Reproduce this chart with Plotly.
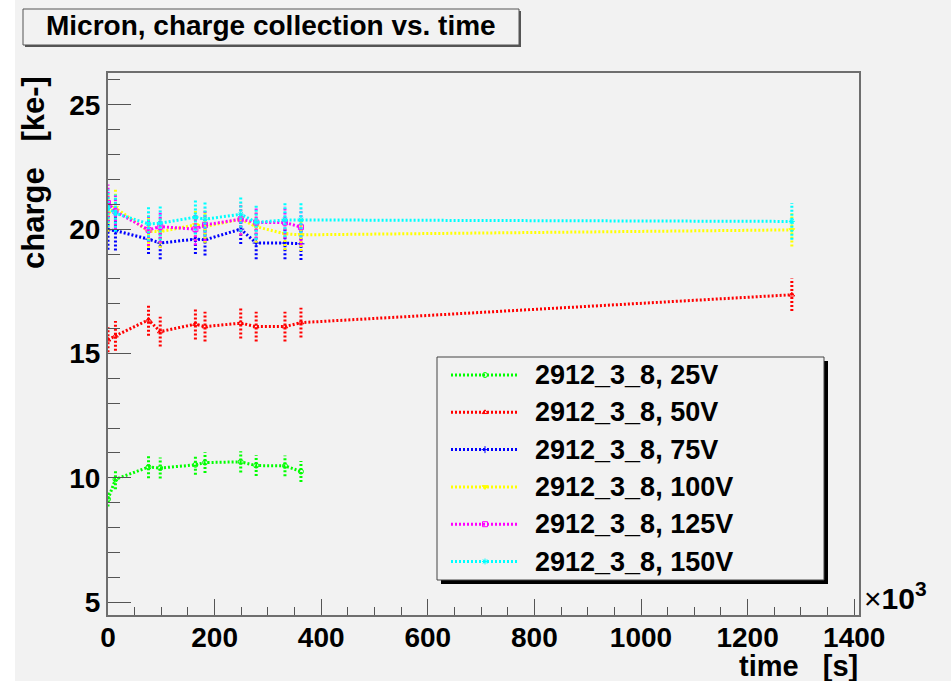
import plotly.graph_objects as go

# ---------------- data ----------------
times = [0, 14, 76, 98, 164, 182, 249, 278, 332, 362, 1283]   # x10^3 s

labels = ["2912_3_8, 25V", "2912_3_8, 50V", "2912_3_8, 75V",
          "2912_3_8, 100V", "2912_3_8, 125V", "2912_3_8, 150V"]
colors = ["#00ff00", "#ff0000", "#0000ff", "#ffff00", "#ff00ff", "#00ffff"]
symbols = ["circle-open", "triangle-up-open", "cross-thin-open",
           "triangle-down", "square-open", "asterisk-open"]

charge_25 = [9.14, 9.94, 10.43, 10.39, 10.52, 10.61, 10.64, 10.49, 10.48, 10.25]
err_25 = [0.30, 0.40, 0.45, 0.42, 0.40, 0.42, 0.43, 0.42, 0.42, 0.42]
charge_50 = [15.55, 15.71, 16.35, 15.88, 16.18, 16.08, 16.22, 16.08, 16.08, 16.24, 17.36]
err_50 = [0.50, 0.60, 0.64, 0.60, 0.62, 0.60, 0.62, 0.60, 0.60, 0.60, 0.65]
charge_75 = [19.97, 19.94, 19.60, 19.44, 19.60, 19.57, 20.00, 19.44, 19.44, 19.41]
err_75 = [0.80, 0.80, 0.60, 0.65, 0.60, 0.63, 0.60, 0.65, 0.65, 0.65]
charge_100 = [20.64, 20.86, 19.90, 19.90, 20.17, 20.10, 20.40, 20.10, 19.81, 19.77, 19.97]
err_100 = [0.75, 0.80, 0.65, 0.65, 0.65, 0.65, 0.65, 0.65, 0.65, 0.65, 0.67]
charge_125 = [21.05, 20.71, 19.97, 20.10, 20.00, 20.17, 20.40, 20.27, 20.27, 20.08]
err_125 = [0.75, 0.70, 0.65, 0.65, 0.65, 0.65, 0.65, 0.65, 0.65, 0.73]
charge_150 = [20.84, 20.64, 20.21, 20.24, 20.48, 20.40, 20.60, 20.27, 20.37, 20.37, 20.31]
err_150 = [0.75, 0.75, 0.70, 0.70, 0.70, 0.70, 0.70, 0.70, 0.70, 0.70, 0.74]

series = [charge_25, charge_50, charge_75, charge_100, charge_125, charge_150]
errors = [err_25, err_50, err_75, err_100, err_125, err_150]

x_ticks = [0, 200, 400, 600, 800, 1000, 1200, 1400]
y_ticks = [5, 10, 15, 20, 25]

# ---------------- layout geometry (pixels) ----------------
W, H = 951, 681
L, R, T, B = 108, 859, 73, 615
FONT = "Liberation Sans, Arial, sans-serif"
DASH = "2px,2px"
BG = "#f2f2f2"


def px(x):
    return (x - L) / (R - L)


def py(y):
    return (B - y) / (B - T)


fig = go.Figure()

for name, col, sym, ys, es in zip(labels, colors, symbols, series, errors):
    xs = times[:len(ys)]
    ex, ey = [], []
    for t, v, e in zip(xs, ys, es):
        ex += [t, t, None]
        ey += [v - e, v + e, None]
    fig.add_trace(go.Scatter(x=ex, y=ey, mode="lines", showlegend=False,
                             hoverinfo="skip",
                             line=dict(color=col, width=3, dash=DASH)))
    fig.add_trace(go.Scatter(x=xs, y=ys, mode="lines+markers", name=name,
                             showlegend=False,
                             line=dict(color=col, width=3, dash=DASH),
                             marker=dict(symbol=sym, size=5, color=col,
                                         line=dict(color=col, width=1))))

# legend keys (drawn on an overlay pixel axis)
leg_y = [375 + 37.3 * i for i in range(len(labels))]
for name, col, sym, yy in zip(labels, colors, symbols, leg_y):
    fig.add_trace(go.Scatter(x=[451, 485, 518], y=[yy, yy, yy], xaxis="x2", yaxis="y2",
                             mode="lines", showlegend=False, hoverinfo="skip",
                             line=dict(color=col, width=3, dash=DASH)))
    fig.add_trace(go.Scatter(x=[485], y=[yy], xaxis="x2", yaxis="y2",
                             mode="markers", showlegend=False, hoverinfo="skip",
                             marker=dict(symbol=sym, size=5, color=col,
                                         line=dict(color=col, width=1))))

shapes = []
annotations = []

# canvas white strip on the left
shapes.append(dict(type="rect", xref="paper", yref="paper", layer="below",
                   x0=px(0), x1=px(15), y0=py(H), y1=py(0),
                   fillcolor="white", line=dict(width=0)))

# title box with shadow
shapes.append(dict(type="rect", xref="paper", yref="paper",
                   x0=px(25), x1=px(521), y0=py(47), y1=py(11),
                   fillcolor="#555555", line=dict(width=0)))
shapes.append(dict(type="rect", xref="paper", yref="paper",
                   x0=px(23), x1=px(519), y0=py(45), y1=py(9),
                   fillcolor=BG, line=dict(color="#555555", width=1)))
annotations.append(dict(xref="paper", yref="paper", x=px(271), y=py(26),
                        text="<b>Micron, charge collection vs. time</b>",
                        showarrow=False, xanchor="center", yanchor="middle",
                        font=dict(family=FONT, size=28, color="black")))

# legend box with shadow (below traces so the keys show on top)
shapes.append(dict(type="rect", xref="paper", yref="paper", layer="below",
                   x0=px(441), x1=px(828), y0=py(584), y1=py(361),
                   fillcolor="black", line=dict(width=0)))
shapes.append(dict(type="rect", xref="paper", yref="paper", layer="below",
                   x0=px(437), x1=px(824), y0=py(580), y1=py(357),
                   fillcolor=BG, line=dict(color="#444444", width=1)))
for name, yy in zip(labels, leg_y):
    annotations.append(dict(xref="paper", yref="paper", x=px(533), y=py(yy),
                            text="<b>%s</b>" % name, showarrow=False,
                            xanchor="left", yanchor="middle",
                            font=dict(family=FONT, size=27, color="black")))

# axis titles
annotations.append(dict(xref="paper", yref="paper", x=px(33), y=py(173),
                        text="<b>charge\u00a0\u00a0\u00a0[ke-]</b>", textangle=-90,
                        showarrow=False, xanchor="center", yanchor="middle",
                        font=dict(family=FONT, size=31, color="black")))
annotations.append(dict(xref="paper", yref="paper", x=px(860), y=py(666),
                        text="<b>time\u00a0\u00a0\u00a0[s]</b>",
                        showarrow=False, xanchor="right", yanchor="middle",
                        font=dict(family=FONT, size=29, color="black")))
annotations.append(dict(xref="paper", yref="paper", x=px(862), y=py(617),
                        text="×<b>10<sup>3</sup></b>",
                        showarrow=False, xanchor="left", yanchor="bottom",
                        font=dict(family=FONT, size=30, color="black")))

axis_common = dict(showgrid=False, zeroline=False, showline=True, mirror=True,
                   linecolor="#6e6e6e", linewidth=2, ticks="inside",
                   tickcolor="#555555", tickwidth=1,
                   tickfont=dict(family=FONT, size=28, color="black", weight="bold"))

fig.update_layout(
    width=W, height=H,
    margin=dict(l=L, r=W - R, t=T, b=H - B),
    paper_bgcolor=BG, plot_bgcolor="rgba(0,0,0,0)",
    showlegend=False,
    xaxis=dict(range=[0, 1409], tickmode="array", tickvals=x_ticks,
               ticktext=[str(v) for v in x_ticks], ticklen=16,
               ticklabelstandoff=-4,
               minor=dict(dtick=50, ticks="inside", ticklen=8, tickcolor="#555555"),
               **axis_common),
    yaxis=dict(range=[4.48, 26.28], tickmode="array", tickvals=y_ticks,
               ticktext=[str(v) for v in y_ticks], ticklen=23,
               minor=dict(dtick=1, ticks="inside", ticklen=12, tickcolor="#555555"),
               **axis_common),
    xaxis2=dict(overlaying="x", range=[L, R], visible=False, fixedrange=True),
    yaxis2=dict(overlaying="y", range=[B, T], visible=False, fixedrange=True),
    shapes=shapes,
    annotations=annotations,
)

fig.write_html("out.html")
